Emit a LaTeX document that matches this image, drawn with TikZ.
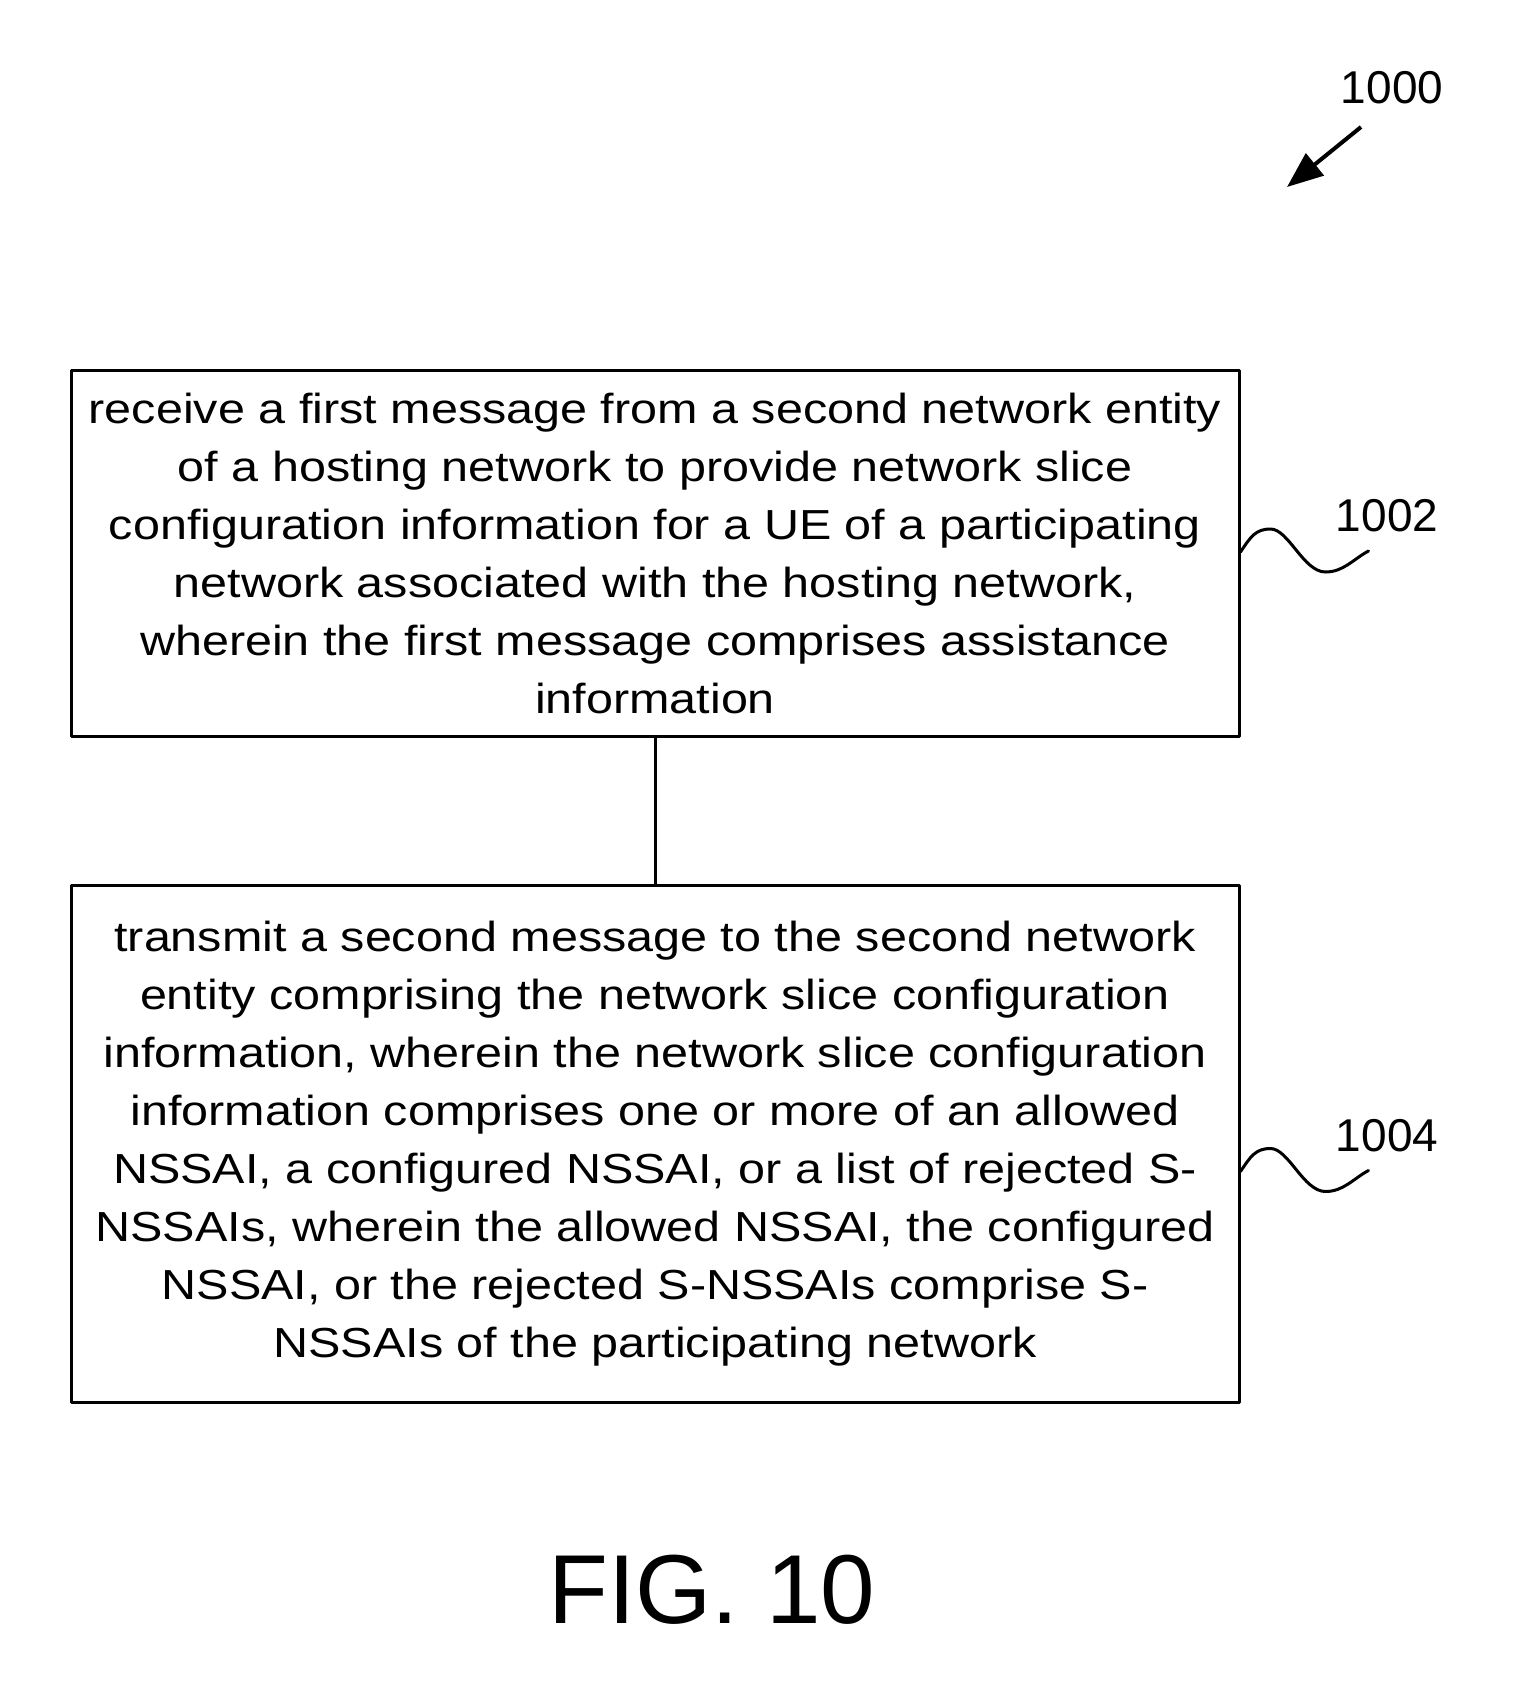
\documentclass[tikz,border=0pt]{standalone}
\usepackage{fontspec}
\setmainfont{Liberation Sans}
\newfontfamily\widesans[FakeStretch=1.155]{Liberation Sans}
\usetikzlibrary{calc,arrows.meta}

\begin{document}
\begin{tikzpicture}[x=0.5pt, y=-0.5pt, line join=round,
  stepbox/.style={draw, line width=1.5pt, inner sep=0pt, align=center,
    font=\widesans\fontsize{21}{29}\selectfont},
  reflbl/.style={anchor=base, font=\fontsize{23}{27}\selectfont},
  lead/.style={line width=1.5pt, line cap=round}]
  % page frame (pixel grid of the reference, y downwards)
  \useasboundingbox (0,0) rectangle (1529,1702);

  % the two steps
  \node[stepbox, minimum width=584pt, minimum height=183pt] (s1002) at (655,553)
    {receive a first message from a second network entity\\
     of a hosting network to provide network slice\\
     configuration information for a UE of a participating\\
     network associated with the hosting network,\\
     wherein the first message comprises assistance\\
     information};
  \node[stepbox, minimum width=584pt, minimum height=258.5pt] (s1004) at (655,1143.5)
    {transmit a second message to the second network\\
     entity comprising the network slice configuration\\
     information, wherein the network slice configuration\\
     information comprises one or more of an allowed\\
     NSSAI, a configured NSSAI, or a list of rejected S-\\
     NSSAIs, wherein the allowed NSSAI, the configured\\
     NSSAI, or the rejected S-NSSAIs comprise S-\\
     NSSAIs of the participating network};

  \draw[line width=1.5pt] (s1002.south) -- (s1004.north);

  % reference numerals with their wavy leaders
  \node[reflbl] (n1002) at (1387,531) {1002};
  \node[reflbl] (n1004) at (1387,1151) {1004};
  \coordinate (w1002) at ($(s1002.east)+(0,-1)$);
  \coordinate (w1004) at ($(s1004.east)+(0,28)$);
  \foreach \w in {w1002,w1004}
    \draw[lead] (\w) .. controls +(10,-15) and +(-15,0) .. ++(30,-23)
      .. controls +(18,0) and +(-22,0) .. ++(55,43)
      .. controls +(18,0) and +(-15,8) .. ++(43,-21);

  % figure numeral and its arrow
  \node[reflbl] (n1000) at (1392,104) {1000};
  \coordinate (a1000) at (1361,127);
  \coordinate (b1000) at (1287,187);
  \draw[line width=2pt, -{Triangle[length=18pt, width=14pt]}] (a1000) -- (b1000);

  \node[anchor=base, font=\fontsize{49}{55}\selectfont] (fig) at (712,1623) {FIG. 10};
\end{tikzpicture}
\end{document}
